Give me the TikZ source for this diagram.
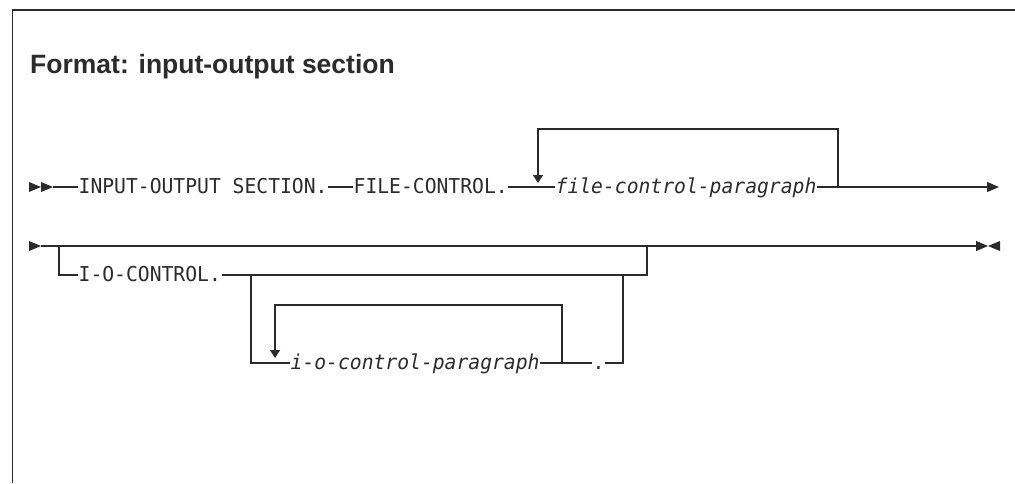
\documentclass[tikz,border=0pt]{standalone}
\usepackage{fontspec}
\usepackage{tikz}
\usetikzlibrary{positioning,arrows.meta}
\newfontfamily\diagMono[FakeStretch=0.96]{DejaVu Sans Mono}
\newfontfamily\titleSans{Liberation Sans}
\definecolor{ink}{HTML}{2B2B2B}

\begin{document}
\begin{tikzpicture}[x=1pt, y=-1pt,
        syntaxWord/.style={anchor=west, inner xsep=0.5pt, inner ysep=0pt, text height=15pt, text depth=3pt, text=ink, font=\diagMono\fontsize{20.5}{24}\selectfont},
        syntaxVar/.style={syntaxWord, font=\diagMono\itshape\fontsize{20.5}{24}\selectfont},
        railStyle/.style={line width=1.2pt, draw=ink},
        loopArrow/.style={railStyle, -{Triangle[length=8pt,width=10pt]}},
        endArrow/.style={railStyle, -{Triangle[length=12pt,width=10pt]}},
        startHead/.pic={\fill[ink] (0,-5) -- (12,0) -- (0,5) -- cycle;},
        stopHead/.pic={\fill[ink] (12,-5) -- (0,0) -- (12,5) -- cycle;}
    ]
        \useasboundingbox (0,0) rectangle (1015,483);

        % Frame and title
        \draw[railStyle] (12.3,483) -- (12.3,10) -- (1015,10);
        \node[anchor=base west, inner sep=0pt, text=ink, font=\titleSans\bfseries\fontsize{26.5}{30}\selectfont] (title) at (30,73) {Format: input-output section};

        % First line: section header and file-control paragraphs
        \pic at (29,187) {startHead};
        \pic at (41,187) {startHead};
        \coordinate (rowA) at (53,187);
        \node[syntaxWord] (ioSection) at (78,187) {INPUT-OUTPUT SECTION.};
        \node[syntaxWord] (fileControl) at (353,187) {FILE-CONTROL.};
        \node[syntaxVar] (fcPara) at (555,187) {file-control-paragraph};
        \coordinate (rowAEnd) at (999,187);
        \coordinate (fcLoopR) at (838,187);
        \coordinate (fcLoopL) at (538,129);
        \coordinate (fcLoopTip) at (538,183);

        \draw[railStyle] (rowA) -- (ioSection.west);
        \draw[railStyle] (ioSection.east) -- (fileControl.west);
        \draw[railStyle] (fileControl.east) -- (fcPara.west);
        \draw[endArrow] (fcPara.east) -- (rowAEnd);
        \draw[loopArrow] (fcLoopR) |- (fcLoopL) -- (fcLoopTip);

        % Second line: optional I-O-CONTROL
        \pic at (29,246) {startHead};
        \coordinate (rowB) at (41,246);
        \coordinate (rowBEnd) at (988,246);
        \pic at (988,246) {stopHead};
        \draw[endArrow] (rowB) -- (rowBEnd);

        \coordinate (ioSplit) at (59,246);
        \coordinate (ioJoin) at (647,246);
        \node[syntaxWord] (ioControl) at (78,275) {I-O-CONTROL.};
        \draw[railStyle] (ioSplit) |- (ioControl.west);
        \draw[railStyle] (ioControl.east) -| (ioJoin);

        % Optional i-o-control paragraphs
        \coordinate (paraSplit) at (251,275);
        \coordinate (paraJoin) at (623,275);
        \node[syntaxVar] (ioPara) at (290,363) {i-o-control-paragraph};
        \node[syntaxWord] (dotEnd) at (592,363) {.};
        \draw[railStyle] (paraSplit) |- (ioPara.west);
        \draw[railStyle] (ioPara.east) -- (dotEnd.west);
        \draw[railStyle] (dotEnd.east) -| (paraJoin);

        \coordinate (ioLoopR) at (562,363);
        \coordinate (ioLoopL) at (275,305);
        \coordinate (ioLoopTip) at (275,358);
        \draw[loopArrow] (ioLoopR) |- (ioLoopL) -- (ioLoopTip);
    \end{tikzpicture}
\end{document}
